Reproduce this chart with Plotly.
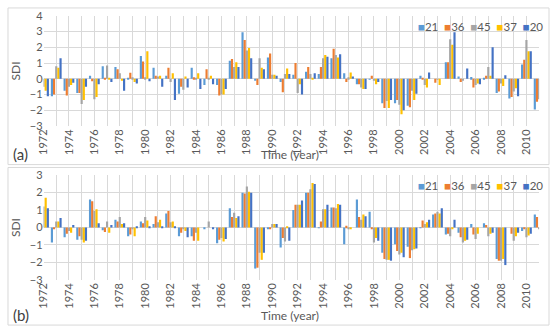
import plotly.graph_objects as go

years = list(range(1972, 2012))
series_names = ["21", "36", "45", "37", "20"]
colors = ["#5B9BD5", "#ED7D31", "#A5A5A5", "#FFC000", "#4472C4"]

# Panel (a)
a_21 = [-0.9, -1.1, -0.75, -0.9, 0.2, 0.8, 0.75, 0.05, 1.45, 0.7, 0.2, -0.95, 0.7, -0.4, -0.4, 1.15, 2.95, -0.1, 1.35, -0.2,
        0.25, 0.45, 0.3, 1.3, 0.35, -0.35, -0.05, -1.55, -1.55, -1.7, 0.2, 0.0, 1.05, 0.15, 0.12, 0.05, -0.9, -1.25, 0.9, -1.95]
a_36 = [-0.8, -1.0, -1.05, -0.9, -0.15, 0.02, 0.6, 0.38, 1.1, 0.2, 0.7, -0.5, 0.1, 0.6, -1.05, 1.25, 2.45, -0.4, 1.6, -0.85,
        1.0, 0.75, 0.75, 1.9, -0.2, -0.35, 0.2, -1.85, -1.35, -1.8, 0.02, -0.25, 1.05, -0.2, -0.55, 0.2, -0.8, -1.15, 1.2, -1.45]
a_45 = [-0.5, 0.8, -0.5, -1.6, -1.3, 0.85, 0.35, 0.1, 0.1, 0.15, -0.2, -0.7, 0.05, 0.02, -1.0, 0.75, 1.8, 1.3, 0.25, 0.3,
        -0.9, 0.3, 1.3, 1.5, 0.1, -0.55, -0.1, -1.4, -1.65, -0.75, -0.4, -0.05, 2.5, -0.1, -0.4, 0.75, -0.3, -0.8, 2.45, -1.3]
a_37 = [-0.75, 0.7, -0.4, -1.35, -1.15, 0.02, -0.1, -0.2, 1.75, 0.2, 0.35, 0.15, 0.35, 0.2, -1.0, 1.05, 1.95, 0.7, 0.25, 0.65,
        -0.35, 0.05, 1.5, 1.35, 0.4, -0.65, -0.35, -1.85, -2.25, -1.35, -0.55, -0.4, 2.15, 0.0, -0.3, 0.2, -0.45, -0.6, 1.75, -1.2]
a_20 = [-1.1, 1.3, -0.25, -0.5, -0.35, -0.2, -0.75, -0.3, -0.15, -0.5, -1.35, -0.55, -0.65, -0.35, -0.65, 0.75, 1.3, 0.6, 0.2, 0.3,
        -1.0, 0.35, 1.4, 1.55, 0.15, -0.65, -0.2, -1.35, -2.0, -0.95, 0.4, 0.0, 2.95, 0.65, -0.35, 2.0, 0.22, -1.1, 1.75, -1.0]

# Panel (b)
b_21 = [1.4, -0.85, -0.55, -0.7, 1.6, -0.15, 0.45, -0.5, 0.35, 0.2, 0.8, -0.5, -0.5, -0.05, -0.9, 1.1, 2.0, -2.35, -0.05, -1.15,
        1.0, 2.0, 0.02, 1.15, -0.95, 1.6, 0.9, -1.45, -0.95, -1.1, 0.02, 0.75, -0.4, -0.3, 0.2, 0.25, -1.8, 0.0, -0.2, 0.75]
b_36 = [1.5, -0.1, -0.35, -0.5, 1.5, -0.25, 0.35, -0.4, 0.25, 0.65, 0.95, -0.3, -0.75, 0.0, -0.7, 0.6, 1.95, -2.3, -0.1, -0.6,
        1.3, 2.0, 0.35, 1.15, 0.1, 0.6, -0.1, -1.8, -1.35, -1.75, 0.4, 0.8, -0.35, -0.55, -0.4, 0.15, -1.9, -0.35, -0.1, 0.6]
b_45 = [1.2, 0.35, -0.2, -0.7, 0.95, 0.35, 0.6, -0.05, 0.6, 0.3, 0.3, -0.1, -0.3, 0.35, -0.6, 0.85, 2.35, -1.45, 0.2, -0.8,
        1.3, 2.2, 1.05, 1.1, -0.1, 0.45, -0.85, -1.85, -1.55, -1.3, 0.2, 0.9, -0.5, -0.85, -0.65, -0.5, -1.9, -0.75, -0.55, -0.1]
b_37 = [1.7, 0.35, -0.3, -0.85, 1.05, -0.3, 0.2, -0.5, 0.4, 0.45, 0.35, -0.2, -0.75, 0.0, -0.8, 0.55, 2.05, -1.85, 0.2, 0.05,
        1.3, 2.55, 1.05, 1.35, -0.05, 0.75, -0.6, -1.85, -1.45, -1.25, 0.3, 0.8, -0.1, -0.75, -0.35, -0.35, -1.8, -0.5, -0.45, -0.05]
b_20 = [1.1, 0.55, 0.15, -0.75, 0.25, 0.15, 0.25, 0.05, 0.05, 0.05, 0.05, -0.55, 0.0, -0.05, -0.65, 0.65, 2.0, -1.45, 0.2, -0.75,
        1.55, 2.5, 1.3, 1.3, 0.0, 0.65, -0.75, -1.9, -1.7, -1.2, 0.45, 1.1, 0.45, -0.7, 0.0, -0.3, -2.15, -0.3, -0.35, -0.1]

panel_a = [a_21, a_36, a_45, a_37, a_20]
panel_b = [b_21, b_36, b_45, b_37, b_20]

tick_text = [str(y) if (y - 1972) % 2 == 0 else "" for y in years]

FONT = "Lato, Open Sans, sans-serif"
GRID = "#D9D9D9"
TXT = "#595959"

fig = go.Figure()
for name, col, vals in zip(series_names, colors, panel_a):
    fig.add_trace(go.Bar(x=years, y=vals, name=name, marker=dict(color=col, line=dict(width=0)),
                         xaxis="x", yaxis="y", offsetgroup=name, showlegend=False))
for name, col, vals in zip(series_names, colors, panel_b):
    fig.add_trace(go.Bar(x=years, y=vals, name=name, marker=dict(color=col, line=dict(width=0)),
                         xaxis="x2", yaxis="y2", offsetgroup=name, showlegend=False))

W, H = 550, 333
def px_x(p):
    return p / W
def px_y(p):
    return 1 - p / H

xcommon = dict(range=[1972, 2011], tickmode="array", tickvals=years, ticktext=tick_text,
               tickangle=-90, showgrid=True, gridcolor=GRID, gridwidth=1, zeroline=False,
               showline=False, ticks="", tickfont=dict(size=11, color=TXT, family=FONT))
ycommon = dict(dtick=1, showgrid=True, gridcolor=GRID, gridwidth=1, zeroline=True,
               zerolinecolor=GRID, zerolinewidth=1, showline=False, ticks="",
               tickfont=dict(size=11, color=TXT, family=FONT),
               title=dict(text="SDI", font=dict(size=12, color=TXT, family=FONT), standoff=6))

fig.update_layout(
    width=W, height=H,
    margin=dict(l=0, r=0, t=0, b=0),
    paper_bgcolor="white", plot_bgcolor="white",
    barmode="group", bargap=0.15, bargroupgap=0.0,
    showlegend=False,
    font=dict(family=FONT, color=TXT),
    xaxis=dict(domain=[px_x(37), px_x(539)], anchor="y", **xcommon),
    yaxis=dict(domain=[px_y(124), px_y(9)], anchor="x", range=[-3, 4], **ycommon),
    xaxis2=dict(domain=[px_x(37), px_x(539)], anchor="y2", **xcommon),
    yaxis2=dict(domain=[px_y(284), px_y(175)], anchor="x2", range=[-3, 3], **ycommon),
)

# panel borders
fig.add_shape(type="rect", xref="paper", yref="paper", x0=px_x(1), x1=px_x(549), y0=px_y(164), y1=px_y(1),
              line=dict(color=GRID, width=1))
fig.add_shape(type="rect", xref="paper", yref="paper", x0=px_x(1), x1=px_x(549), y0=px_y(331), y1=px_y(167),
              line=dict(color=GRID, width=1))

def legend_text():
    parts = []
    for name, col in zip(series_names, colors):
        parts.append(f'<span style="color:{col}">■</span>{name}')
    return "  ".join(parts)

for ypix in (20, 186):
    fig.add_annotation(xref="paper", yref="paper", x=px_x(545), y=px_y(ypix), xanchor="right", yanchor="middle",
                       text=legend_text(), showarrow=False, font=dict(size=11.5, color=TXT, family=FONT))

for label, ypix in (("(a)", 153), ("(b)", 320)):
    fig.add_annotation(xref="paper", yref="paper", x=px_x(4), y=px_y(ypix), xanchor="left", yanchor="middle",
                       text=label, showarrow=False, font=dict(size=15, color="#404040", family=FONT))
    fig.add_annotation(xref="paper", yref="paper", x=px_x(287), y=px_y(ypix + 1), xanchor="center", yanchor="middle",
                       text="Time (year)", showarrow=False, font=dict(size=12, color=TXT, family=FONT))

fig.write_html("out.html", config={"displayModeBar": False},
               post_script="document.body.style.margin='0px';document.body.style.overflow='hidden';")
